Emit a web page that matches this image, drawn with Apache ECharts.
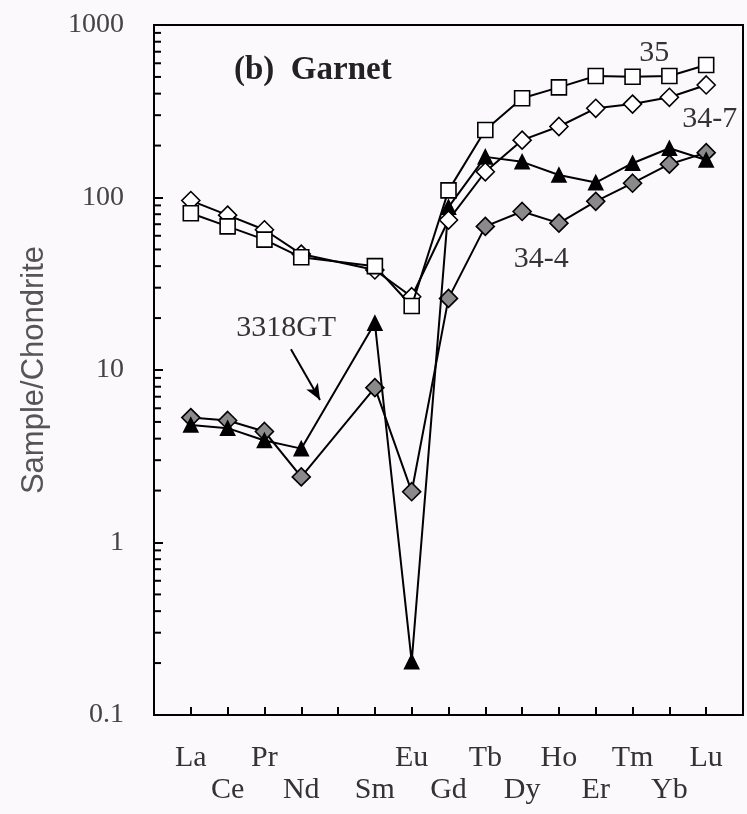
<!DOCTYPE html>
<html><head><meta charset="utf-8">
<script src="https://cdn.jsdelivr.net/npm/echarts@6/dist/echarts.min.js"></script>
<style>html,body{margin:0;padding:0;background:#fcf9fc}#c{width:747px;height:814px}</style>
</head><body><div id="c"></div><script>
// REE order (Pm has a tick but no label and no data)
const elements = ['La','Ce','Pr','Nd','Pm','Sm','Eu','Gd','Tb','Dy','Ho','Er','Tm','Yb','Lu'];
const tickLabels = ['La','Ce','Pr','Nd','','Sm','Eu','Gd','Tb','Dy','Ho','Er','Tm','Yb','Lu'];
// chondrite-normalised values
const s35     = [81, 68, 57, 45, null, 40, 23.5, 110, 246, 376, 435, 506, 501, 506, 586];
const s34_7   = [96, 79, 65, 47, null, 38, 26.6, 74, 141, 215, 258, 329, 348, 381, 449];
const s3318GT = [4.8, 4.6, 3.9, 3.5, null, 18.7, 0.204, 88, 172, 161, 135, 122, 158, 193, 165];
const s34_4   = [5.3, 5.1, 4.4, 2.4, null, 7.9, 1.97, 26, 68, 83, 71, 95, 121, 156, 182];
const yMajorTicks = [0.1, 1, 10, 100, 1000];
const yMinorTicks = [0.2,0.3,0.4,0.5,0.6,0.7,0.8,0.9, 2,3,4,5,6,7,8,9, 20,30,40,50,60,70,80,90, 200,300,400,500,600,700,800,900];
// annotation texts: [text, x (element slot), y value]
const notes = [['35', 13.59, 690], ['34-7', 15.1, 285], ['34-4', 10.52, 44], ['3318GT', 3.59, 17.5]];
const arrow = [[3.72, 13.2], [4.51, 6.7]];

const serif = "'Liberation Serif','DejaVu Serif',serif";
const toData = arr => arr.map((v, i) => [i + 1, v]).filter(d => d[1] !== null);
const chart = echarts.init(document.getElementById('c'), null, {renderer: 'canvas'});

function lineSeries(name, arr, symbol, size, fill, z) {
  return {
    name, type: 'line', data: toData(arr), symbol, symbolSize: size, showSymbol: true, z,
    lineStyle: {color: '#000', width: 2},
    itemStyle: {color: fill, borderColor: '#000', borderWidth: 1.6},
    emphasis: {disabled: true}
  };
}
const s4 = lineSeries('34-4', s34_4, 'diamond', 18, '#8a8a8a', 2);
const s3 = lineSeries('3318GT', s3318GT, 'triangle', 14, '#000', 3);
const s2 = lineSeries('34-7', s34_7, 'diamond', 18, '#fff', 4);
const s1 = lineSeries('35', s35, 'rect', 15, '#fff', 5);

s1.markPoint = {
  silent: true, symbol: 'circle', symbolSize: 1, itemStyle: {color: 'rgba(0,0,0,0)'},
  label: {show: true, position: 'inside', color: '#333', fontFamily: serif, fontSize: 30},
  data: notes.map(n => ({coord: [n[1], n[2]], value: n[0], label: {formatter: n[0]}}))
};
s3.markLine = {
  silent: true, symbol: ['none', 'arrow'], symbolSize: [10, 16], animation: false,
  lineStyle: {color: '#000', width: 2, type: 'solid'}, label: {show: false},
  data: [[{coord: arrow[0]}, {coord: arrow[1]}]]
};

const minorTickSeries = {
  type: 'custom', silent: true, z: 10, clip: false,
  data: yMinorTicks.map(v => [0, v]),
  renderItem: (params, api) => {
    const p = api.coord([api.value(0), api.value(1)]);
    return {type: 'line', shape: {x1: p[0], y1: p[1], x2: p[0] + 7, y2: p[1]}, style: {stroke: '#000', lineWidth: 2}};
  }
};

chart.setOption({
  animation: false,
  backgroundColor: '#fcf9fc',
  title: {text: '(b)  Garnet', left: 229, top: 49, textStyle: {fontFamily: serif, fontWeight: 'bold', fontSize: 33, color: '#222'}},
  grid: {left: 154, top: 25, width: 589, height: 690, containLabel: false, show: true, borderColor: '#000', borderWidth: 2, backgroundColor: 'transparent'},
  xAxis: {
    type: 'value', min: 0, max: 16, interval: 1,
    axisLine: {lineStyle: {color: '#000', width: 2}},
    axisTick: {inside: true, length: 8, lineStyle: {color: '#000', width: 2}},
    splitLine: {show: false},
    axisLabel: {
      margin: 27, color: '#333', fontFamily: serif, fontSize: 30, lineHeight: 32, hideOverlap: false,
      formatter: v => { const i = v - 1; if (i < 0 || i >= tickLabels.length) return ''; return i % 2 === 0 ? tickLabels[i] : '\n' + tickLabels[i]; }
    }
  },
  yAxis: {
    type: 'log', logBase: 10, min: 0.1, max: 1000, interval: 1,
    name: 'Sample/Chondrite', nameLocation: 'middle', nameGap: 104,
    nameTextStyle: {fontFamily: "'Liberation Sans','DejaVu Sans',sans-serif", fontSize: 31, color: '#555'},
    axisLine: {lineStyle: {color: '#000', width: 2}},
    axisTick: {inside: true, length: 9, lineStyle: {color: '#000', width: 2}},
    splitLine: {show: false},
    axisLabel: {margin: 30, color: '#444', fontFamily: serif, fontSize: 28, formatter: v => String(+v.toPrecision(3))}
  },
  series: [s4, s3, s2, s1, minorTickSeries]
});
</script></body></html>
